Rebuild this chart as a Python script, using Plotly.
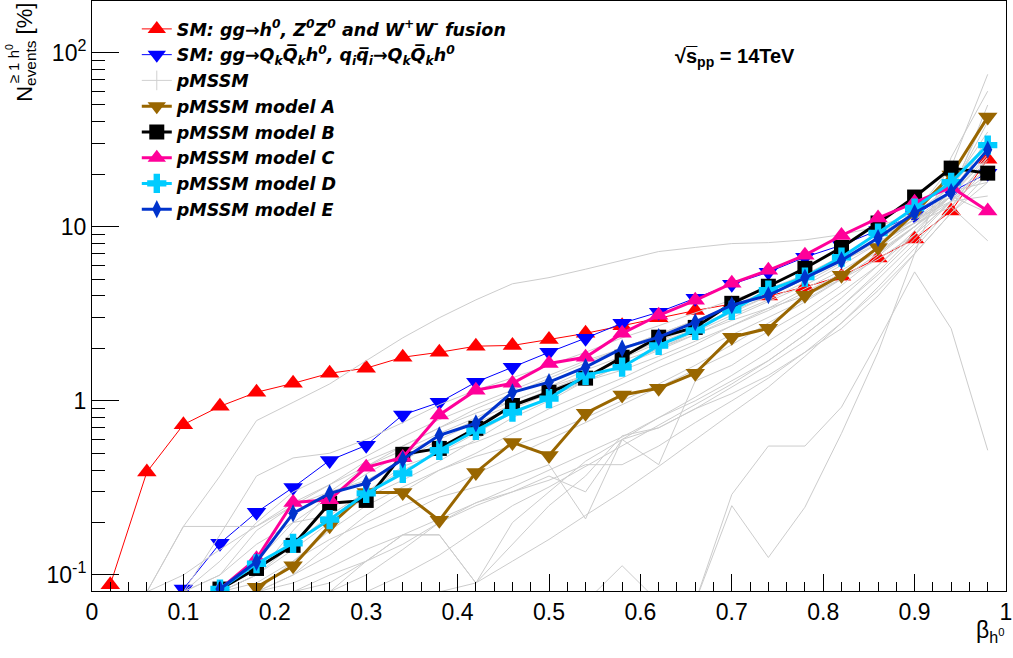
import plotly.graph_objects as go

N = None
beta = [0.02, 0.06, 0.10, 0.14, 0.18, 0.22, 0.26, 0.30, 0.34, 0.38, 0.42, 0.46, 0.50,
        0.54, 0.58, 0.62, 0.66, 0.70, 0.74, 0.78, 0.82, 0.86, 0.90, 0.94, 0.98]

sm_fusion = [0.088, 0.39, 0.73, 0.93, 1.12, 1.26, 1.44, 1.54, 1.78, 1.90, 2.06, 2.08, 2.25,
             2.44, 2.7, 3.0, 3.3, 3.6, 4.0, 4.5, 5.2, 6.6, 8.5, 12.3, 24.4]
sm_assoc = [N, N, 0.083, 0.152, 0.229, 0.318, 0.455, 0.555, 0.83, 0.98, 1.28, 1.56, 1.90,
            2.29, 2.79, 3.23, 3.88, 4.67, 5.48, 6.68, 7.83, 9.5, 11.6, 15.8, 20.3]
model_A = [N, N, N, N, 0.085, 0.113, 0.192, 0.298, 0.298, 0.206, 0.388, 0.577, 0.486,
           0.85, 1.08, 1.18, 1.44, 2.32, 2.61, 4.04, 5.26, 7.6, 12.0, 19.8, 42.6]
model_B = [N, N, N, 0.083, 0.109, 0.148, 0.258, 0.268, 0.493, 0.533, 0.695, 0.94, 1.12,
           1.35, 1.78, 2.32, 2.64, 3.63, 4.55, 5.77, 7.6, 10.5, 14.8, 21.7, 20.3]
model_C = [N, N, N, 0.083, 0.124, 0.261, 0.27, 0.415, 0.473, 0.83, 1.15, 1.26, 1.64,
           1.78, 2.44, 3.10, 3.78, 4.73, 5.62, 6.86, 8.9, 11.2, 13.8, 16.9, 12.3]
model_D = [N, N, N, 0.083, 0.116, 0.152, 0.208, 0.294, 0.383, 0.52, 0.676, 0.86, 1.03,
           1.40, 1.56, 2.08, 2.54, 3.31, 4.32, 5.13, 6.68, 9.2, 12.8, 18.0, 29.4]
model_E = [N, N, N, 0.083, 0.119, 0.226, 0.294, 0.336, 0.461, 0.634, 0.743, 1.12, 1.28,
           1.56, 2.00, 2.32, 2.83, 3.54, 4.04, 5.1, 6.4, 8.6, 12.0, 15.8, 27.7]

# pMSSM scan points (grey curves)
pmssm_curves = [
    [N, 0.08, 0.19, 0.37, 0.77, 0.98, 1.25, 1.7, 2.3, 3.0, 3.8, 4.7, 5.1, 5.7, 6.4, 7.2, 7.6, 8.0, 8.1, 8.4, 9.0, 10, 12, 22, 75],
    [N, 0.08, 0.19, 0.19, 0.19, 0.25, 0.33, 0.45, 0.55, 0.7, 0.85, 1.0, 1.2, 1.4, 1.7, 2.0, 2.4, 2.9, 3.4, 4.0, 5.0, 6.5, 9, 14, 22],
    [N, N, 0.08, 0.17, 0.37, 0.47, 0.5, 0.6, 0.75, 0.95, 1.15, 1.35, 1.6, 1.9, 2.3, 2.7, 3.2, 3.8, 4.4, 5.3, 6.5, 8.2, 10.5, 15, 25],
    [N, N, N, 0.08, 0.1, 0.14, 0.2, 0.28, 0.35, 0.45, 0.6, 0.8, 1.0, 1.3, 1.6, 2.0, 2.5, 3.1, 3.8, 4.8, 6.2, 8.5, 11, 16, 30],
    [N, N, N, N, 0.08, 0.1, 0.15, 0.22, 0.3, 0.4, 0.5, 0.65, 0.8, 1.0, 1.25, 1.55, 1.9, 2.4, 3.0, 3.8, 5.0, 7.0, 10, 15, 28],
    [N, N, N, 0.08, 0.12, 0.2, 0.28, 0.38, 0.5, 0.62, 0.78, 0.95, 1.15, 1.4, 1.75, 2.15, 2.6, 3.2, 4.0, 5.0, 6.4, 8.5, 11.5, 17, 35],
    [N, N, 0.08, 0.1, 0.15, 0.2, 0.22, 0.3, 0.42, 0.5, 0.58, 0.7, 0.9, 1.1, 1.35, 1.7, 2.1, 2.7, 3.4, 4.4, 5.6, 7.5, 10.5, 16, 18],
    [N, N, N, N, 0.08, 0.1, 0.13, 0.18, 0.22, 0.28, 0.32, 0.36, 0.43, 0.21, 0.6, 0.43, 1.3, 1.6, 2.2, 3.0, 4.2, 6.0, 9.0, 14, 20],
    [N, N, N, N, N, 0.08, 0.09, 0.12, 0.17, 0.17, 0.09, 0.2, 0.3, 0.45, 0.6, 0.8, 1.0, 1.3, 1.7, 2.4, 3.5, 5.5, 9, 16, 40],
    [N, N, N, N, N, N, N, N, N, N, N, N, N, 0.07, 0.113, 0.07, 0.07, 0.29, 0.55, 0.55, 0.92, 2.2, 5.5, 2.6, 0.52],
    [N, N, N, N, N, N, N, N, N, N, N, N, N, N, N, N, 0.07, 0.25, 0.126, 0.245, 0.65, 1.9, 7, 25, 60],
    [N, N, N, N, N, N, 0.08, 0.1, 0.14, 0.2, 0.26, 0.3, 0.37, 0.3, 0.6, 0.7, 0.9, 1.2, 1.6, 2.2, 3.2, 5, 8, 13, 22],
    [N, N, 0.08, 0.1, 0.18, 0.25, 0.3, 0.35, 0.45, 0.6, 0.75, 0.9, 1.1, 1.3, 1.5, 1.8, 2.2, 2.7, 3.3, 4.2, 5.4, 7.2, 10, 14, 24],
    [N, N, N, 0.08, 0.1, 0.18, 0.3, 0.42, 0.55, 0.7, 0.9, 1.1, 1.35, 1.65, 2.0, 2.4, 2.9, 3.5, 4.3, 5.3, 6.8, 9.0, 12, 17, 30],
    [N, N, N, N, 0.08, 0.12, 0.18, 0.25, 0.32, 0.4, 0.48, 0.55, 0.65, 0.8, 1.0, 1.25, 1.6, 2.1, 2.8, 3.7, 5.0, 7.0, 10, 15, 26],
    [N, N, N, N, N, 0.08, 0.1, 0.12, 0.15, 0.2, 0.25, 0.3, 0.35, 0.43, 0.43, 0.55, 0.75, 1.0, 1.35, 1.9, 2.8, 4.3, 7.0, 12, 20],
    [N, N, N, 0.08, 0.09, 0.12, 0.16, 0.2, 0.25, 0.3, 0.38, 0.48, 0.6, 0.75, 0.95, 1.2, 1.5, 1.9, 2.5, 3.3, 4.6, 6.8, 10, 16, 45],
    [N, N, N, N, N, N, N, 0.08, 0.1, 0.13, 0.18, 0.25, 0.32, 0.42, 0.55, 0.72, 0.95, 1.25, 1.7, 2.4, 3.5, 5.3, 8.5, 14, 33],
    [N, N, 0.08, 0.12, 0.2, 0.3, 0.38, 0.48, 0.62, 0.78, 0.95, 1.15, 1.4, 1.7, 2.0, 2.4, 2.9, 3.5, 4.2, 5.2, 6.5, 8.5, 11, 14, 15],
    [N, N, N, 0.08, 0.1, 0.15, 0.22, 0.3, 0.4, 0.5, 0.65, 0.85, 1.05, 1.3, 1.6, 1.95, 2.4, 3.0, 3.7, 4.6, 6.0, 8.0, 11, 15, 12],
    [N, 0.08, 0.1, 0.14, 0.19, 0.26, 0.33, 0.42, 0.52, 0.65, 0.8, 1.0, 1.2, 1.5, 1.8, 2.2, 2.7, 3.3, 4.0, 5.0, 6.3, 8.0, 10.5, 13, 8.3],
    [N, N, N, N, 0.08, 0.09, 0.11, 0.14, 0.17, 0.21, 0.26, 0.32, 0.4, 0.5, 0.62, 0.8, 1.05, 1.4, 1.9, 2.7, 3.9, 6.0, 9.5, 15, 50],
    [N, N, N, N, N, N, N, N, N, 0.08, 0.09, 0.12, 0.16, 0.22, 0.3, 0.42, 0.6, 0.85, 1.2, 1.8, 2.8, 4.5, 7.5, 13, 25],
    [N, N, N, N, N, N, 0.08, 0.12, 0.17, 0.17, 0.09, 0.15, 0.25, 0.37, 0.63, 0.7, 0.9, 1.1, 1.4, 1.9, 2.6, 4.0, 7.0, 12, 18],
]

legend_labels = [
    "SM: gg\u2192h<sup>0</sup>, Z<sup>0</sup>Z<sup>0</sup> and W<sup>+</sup>W<sup>-</sup> fusion",
    "SM: gg\u2192Q<sub>k</sub>Q\u0305<sub>k</sub>h<sup>0</sup>, q<sub>i</sub>q\u0305<sub>i</sub>\u2192Q<sub>k</sub>Q\u0305<sub>k</sub>h<sup>0</sup>",
    "pMSSM",
    "pMSSM model A",
    "pMSSM model B",
    "pMSSM model C",
    "pMSSM model D",
    "pMSSM model E",
]

fig = go.Figure()

fig.add_trace(go.Scatter(x=beta, y=sm_fusion, mode="lines+markers", name=legend_labels[0],
                         line=dict(color="#ff0000", width=1),
                         marker=dict(symbol="triangle-up", size=17, color="#ff0000")))
fig.add_trace(go.Scatter(x=beta, y=sm_assoc, mode="lines+markers", name=legend_labels[1],
                         line=dict(color="#0000ff", width=1),
                         marker=dict(symbol="triangle-down", size=17, color="#0000ff")))

# legend entry for pMSSM grey curves
fig.add_trace(go.Scatter(x=[None], y=[None], mode="lines+markers", name=legend_labels[2],
                         line=dict(color="#d0d0d0", width=1),
                         marker=dict(symbol="line-ns", size=14, color="#d0d0d0",
                                     line=dict(color="#d0d0d0", width=1))))
for curve in pmssm_curves:
    fig.add_trace(go.Scatter(x=beta, y=curve, mode="lines", showlegend=False,
                             line=dict(color="#cccccc", width=1), hoverinfo="skip"))

models = [
    (model_A, legend_labels[3], "#996600", "triangle-down", 17),
    (model_B, legend_labels[4], "#000000", "square", 15),
    (model_C, legend_labels[5], "#ff0099", "triangle-up", 17),
    (model_D, legend_labels[6], "#00ccff", "cross", 16),
    (model_E, legend_labels[7], "#0033cc", "diamond-tall", 13),
]
for ys, name, col, sym, sz in models:
    fig.add_trace(go.Scatter(x=beta, y=ys, mode="lines+markers", name=name,
                             line=dict(color=col, width=3),
                             marker=dict(symbol=sym, size=sz, color=col)))

font_family = "Liberation Sans, Arial, Helvetica, sans-serif"
legend_family = "DejaVu Sans, Liberation Sans, sans-serif"

fig.update_layout(
    width=1013, height=658,
    margin=dict(l=92, r=7, t=1, b=67, autoexpand=False),
    paper_bgcolor="white", plot_bgcolor="white",
    font=dict(family=font_family, color="black"),
    showlegend=True,
    legend=dict(x=0.049, y=0.983, xanchor="left", yanchor="top",
                bgcolor="rgba(0,0,0,0)", borderwidth=0,
                font=dict(family=legend_family, size=17.5, weight="bold", style="italic", color="black"),
                tracegroupgap=0, itemwidth=30),
    xaxis=dict(range=[0, 1], showgrid=False, zeroline=False, automargin=False,
               showline=True, linecolor="black", linewidth=1, mirror=True,
               ticks="inside", ticklen=17, tickcolor="black",
               tickvals=[0, 0.1, 0.2, 0.3, 0.4, 0.5, 0.6, 0.7, 0.8, 0.9, 1.0],
               ticktext=["0", "0.1", "0.2", "0.3", "0.4", "0.5", "0.6", "0.7", "0.8", "0.9", "1"],
               tickfont=dict(size=23, family=font_family),
               minor=dict(ticks="inside", ticklen=9, tickcolor="black", dtick=0.02, tick0=0)),
    yaxis=dict(type="log", range=[-1.092, 2.296], showgrid=False, zeroline=False, automargin=False,
               showline=True, linecolor="black", linewidth=1, mirror=True,
               ticks="inside", ticklen=27, tickcolor="black",
               tickvals=[0.1, 1, 10, 100],
               ticktext=["10<sup>-1</sup>", "1", "10", "10<sup>2</sup>"],
               tickfont=dict(size=23, family=font_family),
               minor=dict(ticks="inside", ticklen=13, tickcolor="black",
                          tickvals=[0.2, 0.3, 0.4, 0.5, 0.6, 0.7, 0.8, 0.9,
                                    2, 3, 4, 5, 6, 7, 8, 9,
                                    20, 30, 40, 50, 60, 70, 80, 90, 200])),
)

# axis titles (ROOT style, at the ends of the axes)
fig.add_annotation(xref="paper", yref="paper", x=1.0, y=-0.04, xanchor="right", yanchor="top",
                   text="\u03b2<sub>h<sup>0</sup></sub>", showarrow=False,
                   font=dict(size=23, family=font_family))
fig.add_annotation(xref="paper", yref="paper", x=-0.073, y=1.0, xanchor="center", yanchor="top",
                   text="N<sub>events</sub> [%]", textangle=-90, showarrow=False,
                   font=dict(size=22, family=font_family))
fig.add_annotation(xref="paper", yref="paper", x=-0.087, y=0.93, xanchor="center", yanchor="top",
                   text="\u2265 1 h<sup>0</sup>", textangle=-90, showarrow=False,
                   font=dict(size=15, family=font_family))
fig.add_annotation(xref="paper", yref="paper", x=0.703, y=0.905, xanchor="center", yanchor="middle",
                   text="<b>\u221as\u0305<sub>pp</sub> = 14TeV</b>", showarrow=False,
                   font=dict(size=20, family=font_family))

fig.write_html("out.html", config={"displayModeBar": False},
               post_script="document.body.style.margin='0px';")
